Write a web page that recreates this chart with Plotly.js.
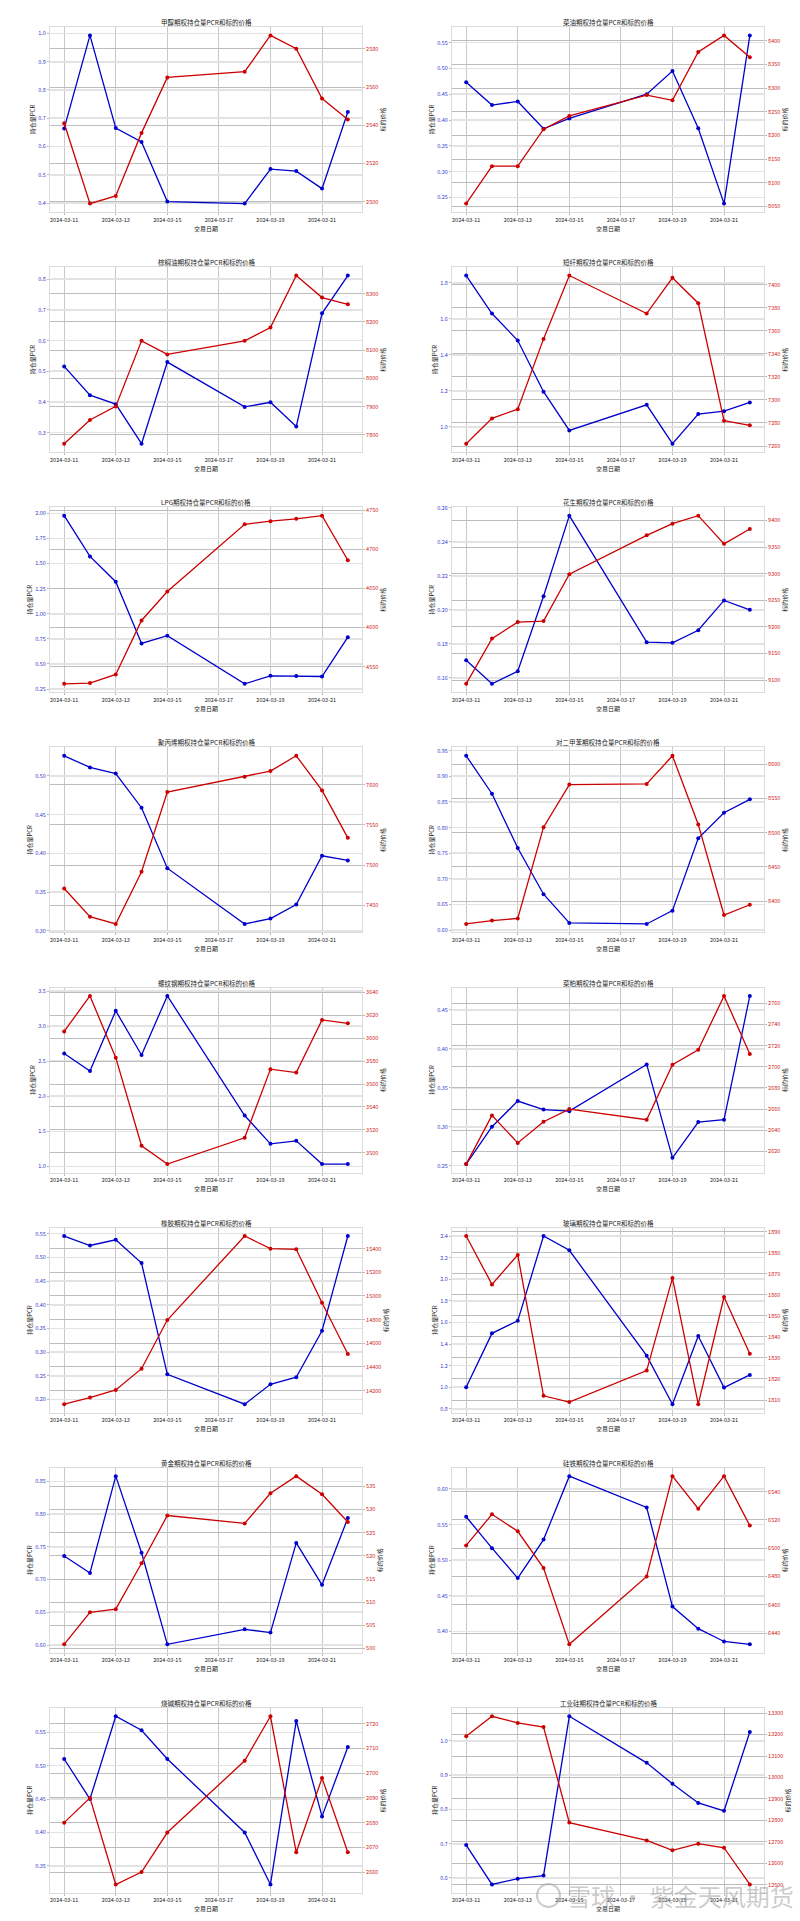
<!DOCTYPE html>
<html><head><meta charset="utf-8">
<script src="https://cdn.plot.ly/plotly-3.0.1.min.js"></script>
<style>html,body{margin:0;padding:0;background:#fff}#chart{width:800px;height:1921px}</style>
</head><body><div id="chart"></div>
<script>
// ---------- data ----------
const dates = ['2024-03-11','2024-03-12','2024-03-13','2024-03-14','2024-03-15','2024-03-18','2024-03-19','2024-03-20','2024-03-21','2024-03-22'];

const panelTitles = [
  '甲醇期权持仓量PCR和标的价格', '菜油期权持仓量PCR和标的价格',
  '棕榈油期权持仓量PCR和标的价格', '短纤期权持仓量PCR和标的价格',
  'LPG期权持仓量PCR和标的价格', '花生期权持仓量PCR和标的价格',
  '聚丙烯期权持仓量PCR和标的价格', '对二甲苯期权持仓量PCR和标的价格',
  '螺纹钢期权持仓量PCR和标的价格', '菜粕期权持仓量PCR和标的价格',
  '橡胶期权持仓量PCR和标的价格', '玻璃期权持仓量PCR和标的价格',
  '黄金期权持仓量PCR和标的价格', '硅铁期权持仓量PCR和标的价格',
  '烧碱期权持仓量PCR和标的价格', '工业硅期权持仓量PCR和标的价格'
];

const pcrMethanol = [0.664,0.993,0.665,0.616,0.405,0.398,0.520,0.513,0.451,0.722];
const priceMethanol = [2541,2499,2503,2536,2565,2568,2587,2580,2554,2543];

const pcrRapeOil = [0.473,0.429,0.436,0.383,0.403,0.450,0.495,0.384,0.238,0.564];
const priceRapeOil = [8056,8135,8135,8213,8241,8285,8274,8376,8411,8365];

const pcrPalm = [0.516,0.422,0.393,0.264,0.530,0.384,0.399,0.320,0.689,0.812];
const pricePalm = [7769,7853,7901,8133,8085,8133,8180,8364,8286,8262];

const pcrPSF = [1.841,1.630,1.480,1.196,0.981,1.123,0.907,1.072,1.088,1.136];
const pricePSF = [7262,7284,7292,7353,7408,7375,7406,7384,7282,7278];

const pcrLPG = [1.977,1.571,1.319,0.704,0.781,0.302,0.382,0.379,0.375,0.767];
const priceLPG = [4528,4529,4540,4609,4646,4732,4736,4739,4743,4686];

const pcrPeanut = [0.1704,0.1565,0.1639,0.208,0.2553,0.181,0.1806,0.188,0.2055,0.200];
const pricePeanut = [9093,9178,9209,9211,9299,9372,9394,9409,9356,9384];

const pcrPP = [0.526,0.511,0.503,0.459,0.381,0.309,0.316,0.334,0.397,0.391];
const pricePP = [7471,7436,7427,7492,7591,7610,7617,7636,7593,7534];

const pcrPX = [0.940,0.866,0.760,0.670,0.614,0.612,0.638,0.779,0.829,0.855];
const pricePX = [8367,8372,8375,8508,8570,8571,8612,8512,8380,8395];

const pcrRebar = [2.611,2.360,3.218,2.588,3.431,1.725,1.322,1.365,1.033,1.033];
const priceRebar = [3606,3637,3583,3506,3490,3513,3573,3570,3616,3613];

const pcrRapeMeal = [0.252,0.300,0.333,0.322,0.320,0.380,0.260,0.306,0.309,0.468];
const priceRapeMeal = [2608,2654,2628,2648,2660,2650,2702,2716,2767,2712];

const pcrRubber = [0.545,0.525,0.537,0.488,0.253,0.190,0.232,0.247,0.345,0.545];
const priceRubber = [14085,14141,14206,14385,14796,15506,15399,15394,14942,14509];

const pcrGlass = [1.000,1.499,1.615,2.400,2.268,1.292,0.843,1.474,0.997,1.114];
const priceGlass = [1888,1865,1879,1812,1809,1824,1868,1808,1859,1832];

const pcrGold = [0.736,0.710,0.858,0.741,0.601,0.624,0.619,0.756,0.692,0.794];
const priceGold = [500.9,507.8,508.5,518.4,528.7,527.0,533.5,537.2,533.3,527.3];

const pcrFeSi = [0.561,0.517,0.475,0.529,0.618,0.574,0.435,0.404,0.386,0.382];
const priceFeSi = [6502,6524,6512,6486,6432,6480,6551,6528,6551,6516];

const pcrCaustic = [0.510,0.450,0.574,0.553,0.510,0.400,0.322,0.567,0.424,0.528];
const priceCaustic = [2680,2690,2655,2660,2676,2705,2723,2668,2698,2668];

const pcrSilicon = [0.696,0.581,0.598,0.607,1.072,0.936,0.875,0.819,0.796,1.026];
const priceSilicon = [13192,13285,13254,13235,12790,12707,12661,12692,12673,12502];

const pcrSeries = [pcrMethanol,pcrRapeOil,pcrPalm,pcrPSF,pcrLPG,pcrPeanut,pcrPP,pcrPX,
                   pcrRebar,pcrRapeMeal,pcrRubber,pcrGlass,pcrGold,pcrFeSi,pcrCaustic,pcrSilicon];
const priceSeries = [priceMethanol,priceRapeOil,pricePalm,pricePSF,priceLPG,pricePeanut,pricePP,pricePX,
                     priceRebar,priceRapeMeal,priceRubber,priceGlass,priceGold,priceFeSi,priceCaustic,priceSilicon];

// ---------- axis styling (tick steps / formats) ----------
const leftStep  = [0.1,0.05,0.1,0.2,0.25,0.02,0.05,0.05,0.5,0.05,0.05,0.2,0.05,0.05,0.05,0.1];
const leftFmt   = ['.1f','.2f','.1f','.1f','.2f','.2f','.2f','.2f','.1f','.2f','.2f','.1f','.2f','.2f','.2f','.1f'];
const rightStep = [20,50,100,20,50,50,50,50,20,20,200,10,5,20,10,100];

// ---------- layout ----------
const W = 800, H = 1921;
const colX = [[50,362],[452,764]];
const rowTop = k => 240.125*k + 27;
const rowBot = k => 240.125*k + 212;
const BLUE = '#0000cc', RED = '#cc0000';
const FONT = 'Noto Sans CJK SC, Liberation Sans, sans-serif';

function padRange(a){
  const mn = Math.min(...a), mx = Math.max(...a), d = (mx-mn)*0.05;
  return [mn-d, mx+d];
}

const traces = [];
const layout = {
  width: W, height: H,
  margin: {l:0,r:0,t:0,b:0},
  paper_bgcolor: '#ffffff', plot_bgcolor: '#ffffff',
  showlegend: false,
  font: {family: FONT, size: 6, color: '#222'},
  annotations: [], shapes: []
};

for (let i = 0; i < 16; i++) {
  const row = Math.floor(i/2), col = i % 2;
  const xn = i+1, yl = 2*i+1, yr = 2*i+2;
  const xd = [colX[col][0]/W, colX[col][1]/W];
  const yd = [1 - rowBot(row)/H, 1 - rowTop(row)/H];
  const xKey = 'xaxis' + (xn === 1 ? '' : xn);
  const ylKey = 'yaxis' + (yl === 1 ? '' : yl);
  const yrKey = 'yaxis' + yr;
  const xId = 'x' + (xn === 1 ? '' : xn);
  const ylId = 'y' + (yl === 1 ? '' : yl);
  const yrId = 'y' + yr;

  layout[xKey] = {
    domain: xd, anchor: ylId, type: 'date',
    range: ['2024-03-10 10:48', '2024-03-22 13:12'],
    tick0: '2024-03-11', dtick: 2*86400000, tickformat: '%Y-%m-%d',
    tickfont: {size: 5.5, color: '#222'},
    ticks: 'outside', ticklen: 2, tickwidth: 0.6, tickcolor: '#888',
    showgrid: true, gridcolor: '#c8c8c8', gridwidth: 1,
    showline: true, mirror: true, linecolor: '#dcdcdc', linewidth: 1,
    zeroline: false,
    title: {text: '交易日期', font: {size: 6, color: '#222'}, standoff: 2}
  };
  layout[ylKey] = {
    domain: yd, anchor: xId, range: padRange(pcrSeries[i]),
    tick0: 0, dtick: leftStep[i], tickformat: leftFmt[i],
    tickfont: {size: 5.5, color: '#3a3ad0'},
    ticks: 'outside', ticklen: 2, tickwidth: 0.6, tickcolor: '#888',
    showgrid: true, gridcolor: '#e3e3e3', gridwidth: 1.6,
    showline: true, linecolor: '#dcdcdc', linewidth: 1,
    zeroline: false,
    title: {text: '持仓量PCR', font: {size: 6, color: '#222'}, standoff: 2}
  };
  layout[yrKey] = {
    overlaying: ylId, side: 'right', anchor: xId, range: padRange(priceSeries[i]),
    tick0: 0, dtick: rightStep[i], tickformat: 'd',
    tickfont: {size: 5.5, color: '#d02020'},
    ticks: 'outside', ticklen: 2, tickwidth: 0.6, tickcolor: '#888',
    showgrid: true, gridcolor: '#bdbdbd', gridwidth: 1,
    showline: true, linecolor: '#dcdcdc', linewidth: 1,
    zeroline: false,
    title: {text: '标的价格', font: {size: 6, color: '#222'}, standoff: 3}
  };

  traces.push({
    type: 'scatter', mode: 'lines+markers', x: dates, y: pcrSeries[i],
    xaxis: xId, yaxis: ylId,
    line: {color: BLUE, width: 1.3}, marker: {color: BLUE, size: 4}
  });
  traces.push({
    type: 'scatter', mode: 'lines+markers', x: dates, y: priceSeries[i],
    xaxis: xId, yaxis: yrId,
    line: {color: RED, width: 1.3}, marker: {color: RED, size: 4}
  });

  layout.annotations.push({
    text: panelTitles[i], showarrow: false,
    xref: 'paper', yref: 'paper',
    x: (xd[0]+xd[1])/2, y: 1 - (rowTop(row) - 5)/H,
    xanchor: 'center', yanchor: 'middle',
    font: {size: 6.5, color: '#222'}
  });
}

// watermark
layout.annotations.push({
  text: '雪球 · 紫金天风期货', showarrow: false,
  xref: 'paper', yref: 'paper', x: 565/W, y: 1 - 1895/H,
  xanchor: 'left', yanchor: 'middle',
  font: {size: 24, color: 'rgba(160,160,160,0.55)'}
});
layout.shapes.push({
  type: 'circle', xref: 'paper', yref: 'paper',
  x0: 537/W, x1: 560/W, y0: 1 - 1907/H, y1: 1 - 1884/H,
  line: {color: 'rgba(160,160,160,0.55)', width: 2}
});

Plotly.newPlot('chart', traces, layout, {staticPlot: true, displayModeBar: false});
</script></body></html>
